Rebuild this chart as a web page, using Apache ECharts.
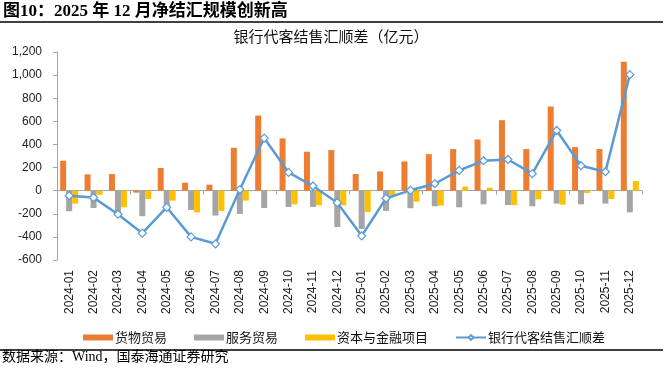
<!DOCTYPE html>
<html>
<head>
<meta charset="utf-8">
<script src="https://cdn.jsdelivr.net/npm/echarts@6/dist/echarts.min.js"></script>
<style>html,body{margin:0;padding:0;background:#fff}#c{width:671px;height:370px}</style>
</head>
<body>
<div id="c"></div>
<script>
var categories = ['2024-01','2024-02','2024-03','2024-04','2024-05','2024-06','2024-07','2024-08','2024-09','2024-10','2024-11','2024-12',
                  '2025-01','2025-02','2025-03','2025-04','2025-05','2025-06','2025-07','2025-08','2025-09','2025-10','2025-11','2025-12'];
var goods    = [259,141,143,-17,196,69,52,371,650,452,337,351,144,167,253,316,360,443,610,360,728,377,360,1116];
var services = [-178,-150,-184,-221,-150,-167,-215,-201,-150,-141,-141,-314,-331,-175,-152,-135,-144,-118,-124,-135,-112,-118,-112,-187];
var capital  = [-112,-35,-144,-72,-86,-188,-175,-86,5,-118,-127,-127,-184,-43,-95,-129,35,26,-124,-75,-121,-20,-72,83];
var net      = [-43,-60,-204,-368,-144,-400,-460,10,455,158,40,-104,-391,-66,3,60,175,259,270,147,521,216,164,1004];
var yTicks   = {min:-600, max:1200, interval:200};
var names    = ['货物贸易','服务贸易','资本与金融项目','银行代客结售汇顺差'];

var chart = echarts.init(document.getElementById('c'), null, {renderer:'canvas'});
var fmt = function(v){ return String(v).replace(/\B(?=(\d{3})+(?!\d))/g, ','); };
var serifCJK = "'Liberation Serif','Noto Sans CJK SC',serif";
var sansCJK = "'Noto Sans CJK SC',sans-serif";
chart.setOption({
  animation:false,
  backgroundColor:'#fff',
  grid:{left:57, right:29, top:52, bottom:110},
  legend:{
    left:78, top:326, itemWidth:30, itemHeight:6, itemGap:27,
    textStyle:{fontFamily:sansCJK, fontSize:13, color:'#111', padding:[0,0,0,-3]},
    data:[{name:names[0],icon:'rect'},{name:names[1],icon:'rect'},{name:names[2],icon:'rect'},{name:names[3]}]
  },
  graphic:[
    {type:'text', left:3, top:3, style:{text:'图10：2025 年 12 月净结汇规模创新高', font:'bold 17px '+serifCJK, fill:'#000'}},
    {type:'line', shape:{x1:0,y1:22,x2:663,y2:22}, style:{stroke:'#000',lineWidth:1.5}},
    {type:'text', x:331, y:36, style:{text:'银行代客结售汇顺差（亿元）', font:'15px '+sansCJK, fill:'#111', textAlign:'center', textVerticalAlign:'middle'}},
    {type:'line', shape:{x1:0,y1:350,x2:663,y2:350}, style:{stroke:'#000',lineWidth:1.5}},
    {type:'text', left:2, top:350, style:{text:'数据来源：Wind，国泰海通证券研究', font:'14px '+serifCJK, fill:'#000'}}
  ],
  xAxis:[
    {type:'category', data:categories, position:'bottom',
     axisLine:{onZero:true, lineStyle:{color:'#A6A6A6',width:1}},
     axisTick:{show:true, length:4, lineStyle:{color:'#A6A6A6'}},
     axisLabel:{show:false}, splitLine:{show:false}},
    {type:'category', data:categories, position:'bottom',
     axisLine:{show:false, onZero:false}, axisTick:{show:false},
     axisLabel:{rotate:90, margin:10, fontSize:12, fontFamily:"'Liberation Sans',Arial,sans-serif", color:'#222'}}
  ],
  yAxis:{type:'value', min:yTicks.min, max:yTicks.max, interval:yTicks.interval,
    axisLine:{show:true, lineStyle:{color:'#A6A6A6'}},
    axisTick:{show:true, length:4, lineStyle:{color:'#A6A6A6'}},
    splitLine:{show:false},
    axisLabel:{formatter:fmt, margin:15, fontSize:12, fontFamily:"'Liberation Sans',Arial,sans-serif", color:'#222'}},
  series:[
    {name:names[0], type:'bar', data:goods, barWidth:6, barGap:'0%', itemStyle:{color:'#ED7D31'}},
    {name:names[1], type:'bar', data:services, barWidth:6, barGap:'0%', itemStyle:{color:'#A5A5A5'}},
    {name:names[2], type:'bar', data:capital, barWidth:6, barGap:'0%', itemStyle:{color:'#FFC000'}},
    {name:names[3], type:'line', data:net, symbol:'diamond', symbolSize:8, showSymbol:true,
     lineStyle:{color:'#5B9BD5', width:2.5},
     itemStyle:{color:'#fff', borderColor:'#5B9BD5', borderWidth:1.2}, z:5}
  ]
});
</script>
</body>
</html>
